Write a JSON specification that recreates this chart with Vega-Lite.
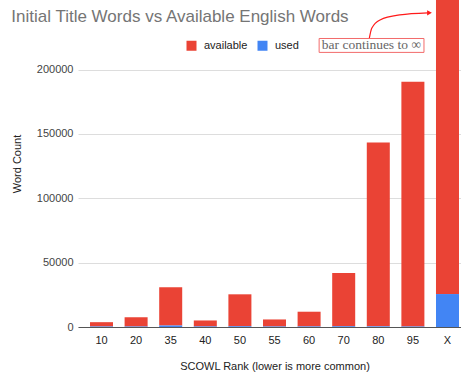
{
  "$schema": "https://vega.github.io/schema/vega-lite/v6.json",
  "width": 393,
  "height": 327,
  "autosize": "none",
  "padding": {"left": 78, "top": 0, "right": 0, "bottom": 46},
  "background": "white",
  "title": {
    "text": "Initial Title Words vs Available English Words",
    "anchor": "start",
    "orient": "top",
    "offset": -39,
    "baseline": "alphabetic",
    "dx": 0,
    "font": "Liberation Sans",
    "fontSize": 17,
    "fontWeight": "normal",
    "color": "#757575"
  },
  "config": {
    "view": {"stroke": null},
    "font": "Liberation Sans",
    "axis": {"labelFont": "Liberation Sans", "titleFont": "Liberation Sans", "labelFontSize": 11, "titleFontSize": 11, "labelColor": "#444444", "titleColor": "#222222", "titleFontWeight": "normal"}
  },
  "layer": [
    {
      "data": {
        "values": [
          {"rank": "10", "series": "available", "count": 3350},
          {"rank": "10", "series": "used", "count": 400},
          {"rank": "20", "series": "available", "count": 7200},
          {"rank": "20", "series": "used", "count": 450},
          {"rank": "35", "series": "available", "count": 29660},
          {"rank": "35", "series": "used", "count": 1200},
          {"rank": "40", "series": "available", "count": 4630},
          {"rank": "40", "series": "used", "count": 450},
          {"rank": "50", "series": "available", "count": 24790},
          {"rank": "50", "series": "used", "count": 600},
          {"rank": "55", "series": "available", "count": 5460},
          {"rank": "55", "series": "used", "count": 400},
          {"rank": "60", "series": "available", "count": 11420},
          {"rank": "60", "series": "used", "count": 450},
          {"rank": "70", "series": "available", "count": 41400},
          {"rank": "70", "series": "used", "count": 600},
          {"rank": "80", "series": "available", "count": 142800},
          {"rank": "80", "series": "used", "count": 500},
          {"rank": "95", "series": "available", "count": 190050},
          {"rank": "95", "series": "used", "count": 400},
          {"rank": "X", "series": "available", "count": 228400},
          {"rank": "X", "series": "used", "count": 25600}
        ]
      },
      "mark": {"type": "bar"},
      "encoding": {
        "x": {
          "field": "rank",
          "type": "ordinal",
          "sort": ["10", "20", "35", "40", "50", "55", "60", "70", "80", "95", "X"],
          "scale": {"paddingInner": 0.335, "paddingOuter": 0.347},
          "axis": {
            "title": "SCOWL Rank (lower is more common)",
            "labelAngle": 0,
            "labelColor": "#222222",
            "labelPadding": 7,
            "ticks": false,
            "domainColor": "#555555",
            "domainWidth": 1,
            "titlePadding": 15,
            "grid": false
          }
        },
        "y": {
          "field": "count",
          "type": "quantitative",
          "stack": "zero",
          "scale": {"domain": [0, 254000], "nice": false},
          "axis": {
            "title": "Word Count",
            "values": [0, 50000, 100000, 150000, 200000],
            "format": "d",
            "ticks": false,
            "domain": false,
            "labelPadding": 5,
            "gridColor": "#dddddd",
            "titlePadding": 14
          }
        },
        "color": {
          "field": "series",
          "type": "nominal",
          "scale": {"domain": ["available", "used"], "range": ["#EA4335", "#4285F4"]},
          "legend": {
            "title": null,
            "orient": "none",
            "direction": "horizontal",
            "legendX": 108,
            "legendY": 40,
            "symbolType": "square",
            "symbolSize": 100,
            "symbolStrokeWidth": 0,
            "labelFont": "Liberation Sans",
            "labelFontSize": 11,
            "labelColor": "#222222",
            "labelOffset": 7,
            "columnPadding": 9
          }
        },
        "order": {"field": "series", "sort": "descending"}
      }
    },
    {
      "data": {
        "values": [
          {"u": 7.74, "count": 224200},
          {"u": 7.81, "count": 232000},
          {"u": 8.05, "count": 238500},
          {"u": 8.62, "count": 242400},
          {"u": 9.43, "count": 244000}
        ]
      },
      "mark": {"type": "line", "color": "#ff1a1a", "strokeWidth": 1.2, "interpolate": "monotone"},
      "encoding": {
        "x": {"field": "u", "type": "quantitative", "scale": {"domain": [-0.679, 10.679], "nice": false, "zero": false}, "axis": null},
        "y": {"field": "count", "type": "quantitative"}
      }
    },
    {
      "data": {"values": [{"label": "bar continues to ∞"}]},
      "layer": [
        {
          "mark": {"type": "rect", "fill": "white", "stroke": "#f26b6b", "strokeWidth": 1},
          "encoding": {
            "x": {"datum": 6.29, "type": "quantitative", "scale": {"domain": [-0.679, 10.679], "nice": false, "zero": false}, "axis": null},
            "x2": {"datum": 9.32},
            "y": {"datum": 224100, "type": "quantitative"},
            "y2": {"datum": 213300}
          }
        },
        {
          "mark": {"type": "text", "font": "Liberation Serif", "fontSize": 13.5, "color": "#666666", "align": "center", "baseline": "middle"},
          "encoding": {
            "x": {"datum": 7.8, "type": "quantitative", "scale": {"domain": [-0.679, 10.679], "nice": false, "zero": false}, "axis": null},
            "y": {"datum": 218700, "type": "quantitative"},
            "text": {"field": "label"}
          }
        },
        {
          "mark": {"type": "point", "shape": "triangle-right", "filled": true, "color": "#ff1a1a", "size": 30, "opacity": 1},
          "encoding": {
            "x": {"datum": 9.48, "type": "quantitative", "scale": {"domain": [-0.679, 10.679], "nice": false, "zero": false}, "axis": null},
            "y": {"datum": 244000, "type": "quantitative"}
          }
        }
      ]
    }
  ],
  "resolve": {"scale": {"x": "independent"}}
}
